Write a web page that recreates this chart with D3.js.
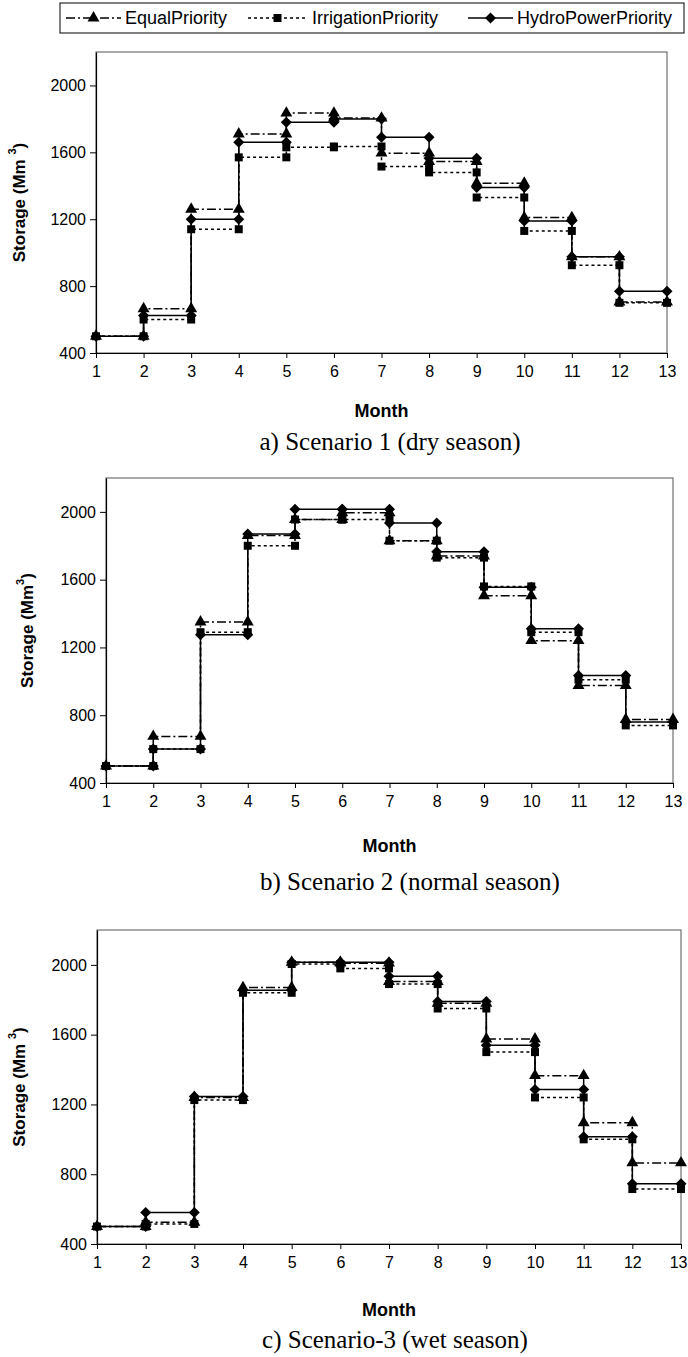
<!DOCTYPE html>
<html>
<head>
<meta charset="utf-8">
<script src="https://cdn.jsdelivr.net/npm/d3@7"></script>
<style>
  body { margin: 0; background: #fff; }
  svg { display: block; }
  text { font-family: "Liberation Sans", Arial, sans-serif; fill: #000; }
  .caption { font-family: "Liberation Serif", "Times New Roman", serif; }
</style>
</head>
<body>
<svg id="chart" width="688" height="1357"></svg>
<script>
// month at which each step starts (each value holds from month m to m+1)
const months = [1, 2, 3, 4, 5, 6, 7, 8, 9, 10, 11, 12];
const xTicks = [1, 2, 3, 4, 5, 6, 7, 8, 9, 10, 11, 12, 13];
const yTicks = [400, 800, 1200, 1600, 2000];
const seriesNames = ["EqualPriority", "IrrigationPriority", "HydroPowerPriority"];

// Scenario 1 (dry season)
const s1Equal = [500, 665, 1260, 1710, 1835, 1805, 1595, 1545, 1415, 1210, 975, 705];
const s1Irrigation = [500, 600, 1140, 1570, 1630, 1635, 1515, 1480, 1330, 1130, 925, 700];
const s1Hydro = [500, 625, 1200, 1660, 1780, 1800, 1690, 1565, 1390, 1190, 975, 770];

// Scenario 2 (normal season)
const s2Equal = [500, 675, 1350, 1860, 1955, 1995, 1830, 1740, 1505, 1240, 975, 775];
const s2Irrigation = [500, 600, 1290, 1800, 1955, 1955, 1830, 1730, 1560, 1290, 1010, 740];
const s2Hydro = [500, 600, 1275, 1870, 2015, 2015, 1935, 1765, 1555, 1310, 1035, 760];

// Scenario 3 (wet season)
const s3Equal = [500, 525, 1240, 1870, 2015, 2010, 1905, 1780, 1575, 1365, 1095, 865];
const s3Irrigation = [500, 515, 1225, 1840, 2005, 1980, 1890, 1750, 1500, 1240, 1000, 715];
const s3Hydro = [500, 580, 1245, 1855, 2015, 2015, 1935, 1790, 1540, 1285, 1015, 745];

const captions = ["a) Scenario 1 (dry season)", "b) Scenario 2 (normal season)", "c) Scenario-3 (wet season)"];

var svg = d3.select("#chart");

// line / marker styles per series
var dashes = ["9,3,2,3", "3,3", null];
var diamond = "M0,-5.5L5.5,0L0,5.5L-5.5,0Z";
var markers = [
    d3.symbol().type(d3.symbolTriangle).size(62)(),
    d3.symbol().type(d3.symbolSquare).size(64)(),
    diamond
];

// panel placement
var panels = [
    { series: [s1Equal, s1Irrigation, s1Hydro], left: 96, right: 667, top: 52, bottom: 353,
      titleX: 19, supSpace: true, monthY: 411, capX: 390, capY: 450 },
    { series: [s2Equal, s2Irrigation, s2Hydro], left: 106, right: 673, top: 478, bottom: 783,
      titleX: 27, supSpace: false, monthY: 846, capX: 410, capY: 890 },
    { series: [s3Equal, s3Irrigation, s3Hydro], left: 97, right: 681, top: 930, bottom: 1244,
      titleX: 19, supSpace: true, monthY: 1310, capX: 395, capY: 1348 }
];

panels.forEach(function (p, pi) {
    var x = d3.scaleLinear().domain([1, 13]).range([p.left, p.right]);
    var y = d3.scaleLinear().domain([400, 2200]).range([p.bottom, p.top]);
    var g = svg.append("g");

    // plot frame
    g.append("rect")
        .attr("x", p.left).attr("y", p.top)
        .attr("width", p.right - p.left).attr("height", p.bottom - p.top)
        .attr("fill", "none").attr("stroke", "#555").attr("stroke-width", 1);

    // axes
    var yAxis = g.append("g")
        .attr("transform", "translate(" + p.left + ",0)")
        .call(d3.axisLeft(y).tickValues(yTicks).tickFormat(d3.format("d"))
            .tickSize(6).tickPadding(4).tickSizeOuter(0));
    var xAxis = g.append("g")
        .attr("transform", "translate(0," + p.bottom + ")")
        .call(d3.axisBottom(x).tickValues(xTicks).tickFormat(d3.format("d"))
            .tickSize(5).tickPadding(8).tickSizeOuter(0));
    [yAxis, xAxis].forEach(function (a) {
        a.select(".domain").attr("stroke", "#000").attr("stroke-width", 1.2);
        a.selectAll(".tick line").attr("stroke", "#000");
        a.selectAll("text").attr("font-size", 16).attr("font-family", "Liberation Sans, Arial, sans-serif");
    });
    // keep the last month label inside the page
    xAxis.selectAll(".tick text")
        .filter(d => x(d) + 9 > 688)
        .attr("text-anchor", "end")
        .attr("x", d => 687 - x(d));

    // step lines: each value spans month m to m+1
    var line = d3.line().x(d => x(d[0])).y(d => y(d[1]));
    var stepPts = p.series.map(function (vals) {
        var pts = [];
        months.forEach(function (m, i) {
            pts.push([m, vals[i]]);
            pts.push([m + 1, vals[i]]);
        });
        return pts;
    });

    stepPts.forEach(function (pts, si) {
        g.append("path")
            .datum(pts)
            .attr("d", line)
            .attr("fill", "none")
            .attr("stroke", "#000")
            .attr("stroke-width", 1.5)
            .attr("stroke-dasharray", dashes[si]);
    });
    stepPts.forEach(function (pts, si) {
        g.selectAll(".m" + si)
            .data(pts)
            .enter().append("path")
            .attr("class", "m" + si)
            .attr("d", markers[si])
            .attr("transform", d => "translate(" + x(d[0]) + "," + y(d[1]) + ")")
            .attr("fill", "#000");
    });

    // y-axis title
    var yt = g.append("text")
        .attr("transform", "translate(" + p.titleX + "," + ((p.top + p.bottom) / 2) + ") rotate(-90)")
        .attr("text-anchor", "middle")
        .attr("dominant-baseline", "central")
        .attr("font-size", 17)
        .attr("font-weight", "bold");
    yt.append("tspan").text(p.supSpace ? "Storage (Mm " : "Storage (Mm");
    yt.append("tspan").attr("font-size", 11).attr("dy", -7).text("3");
    yt.append("tspan").attr("dy", 7).text(")");

    // x-axis title
    g.append("text")
        .attr("x", (p.left + p.right) / 2)
        .attr("y", p.monthY)
        .attr("text-anchor", "middle")
        .attr("dominant-baseline", "central")
        .attr("font-size", 18)
        .attr("font-weight", "bold")
        .text("Month");

    // caption
    g.append("text")
        .attr("class", "caption")
        .attr("x", p.capX)
        .attr("y", p.capY)
        .attr("text-anchor", "middle")
        .attr("font-size", 25)
        .text(captions[pi]);
});

// legend
var legend = svg.append("g");
legend.append("rect")
    .attr("x", 60).attr("y", 3).attr("width", 624).attr("height", 30)
    .attr("fill", "#fff").attr("stroke", "#000").attr("stroke-width", 1);
var legendItems = [
    { x1: 66, x2: 121, tx: 125 },
    { x1: 248, x2: 307, tx: 312 },
    { x1: 468, x2: 513, tx: 517 }
];
legendItems.forEach(function (it, i) {
    var ly = 18;
    legend.append("line")
        .attr("x1", it.x1).attr("x2", it.x2).attr("y1", ly).attr("y2", ly)
        .attr("stroke", "#000").attr("stroke-width", 1.5)
        .attr("stroke-dasharray", dashes[i]);
    legend.append("path")
        .attr("d", markers[i])
        .attr("transform", "translate(" + ((it.x1 + it.x2) / 2) + "," + ly + ")")
        .attr("fill", "#000");
    legend.append("text")
        .attr("x", it.tx).attr("y", ly)
        .attr("dominant-baseline", "central")
        .attr("font-size", 18)
        .text(seriesNames[i]);
});
</script>
</body>
</html>
